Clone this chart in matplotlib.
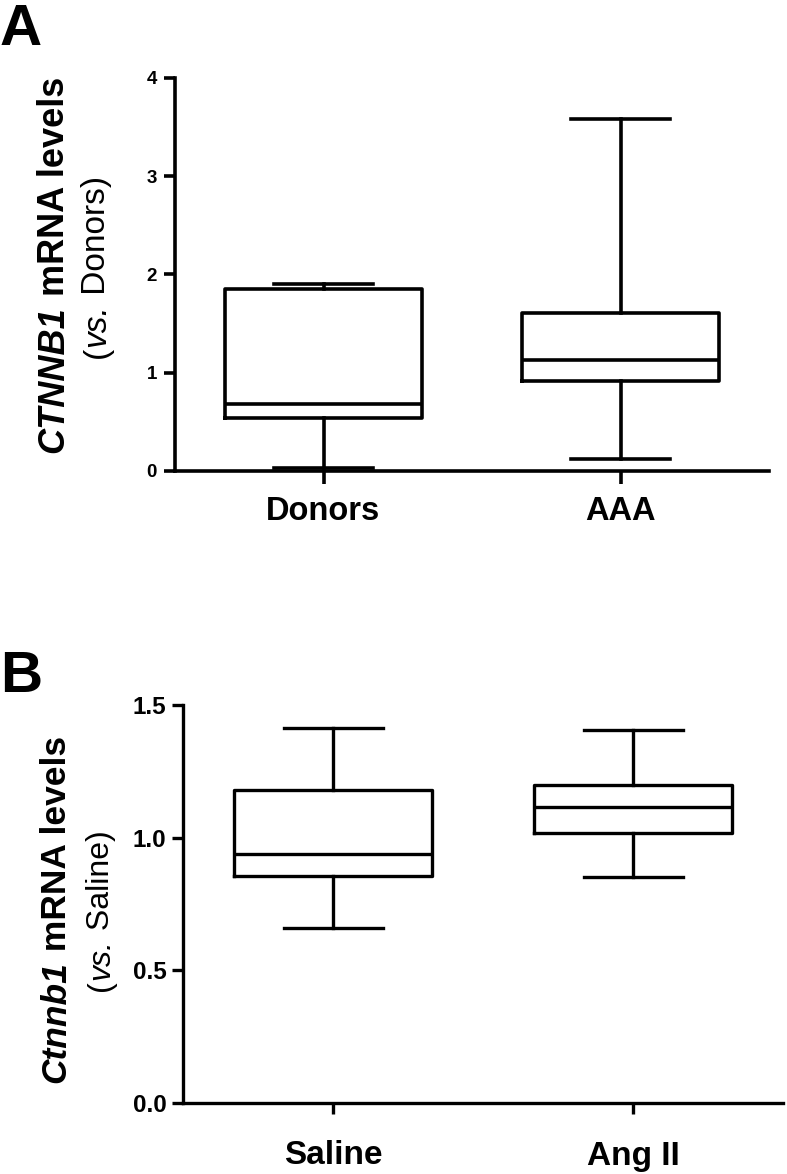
import matplotlib
matplotlib.use("Agg")
import matplotlib.pyplot as plt

plt.rcParams['font.family'] = ['Liberation Sans', 'DejaVu Sans']

# Panel A: human aorta (box plot summary values)
groups_a = ['Donors', 'AAA']
whislo_a = [0.034, 0.126]
q1_a = [0.537, 0.920]
med_a = [0.679, 1.130]
q3_a = [1.850, 1.612]
whishi_a = [1.904, 3.581]
yticks_a = [0, 1, 2, 3, 4]

# Panel B: mouse model
groups_b = ['Saline', 'Ang II']
whislo_b = [0.660, 0.853]
q1_b = [0.856, 1.019]
med_b = [0.939, 1.117]
q3_b = [1.180, 1.199]
whishi_b = [1.414, 1.406]
yticks_b = [0.0, 0.5, 1.0, 1.5]

W, H = 787, 1174
fig = plt.figure(figsize=(W / 100, H / 100), dpi=100)


def px(x, y):
    # pixel position (from top-left) -> figure fraction
    return x / W, 1 - y / H


def make_stats(groups, lo, q1, med, q3, hi):
    return [dict(label=g, whislo=a, q1=b, med=c, q3=d, whishi=e, fliers=[])
            for g, a, b, c, d, e in zip(groups, lo, q1, med, q3, hi)]


def draw_box(ax, stats, lw):
    props = dict(color='black', linewidth=lw)
    ax.bxp(stats, positions=[1, 2], widths=0.66, showfliers=False,
           boxprops=props, medianprops=props, whiskerprops=props,
           capprops=props)
    ax.set_xlim(0.5, 2.5)
    for s in ['top', 'right']:
        ax.spines[s].set_visible(False)
    for s in ['left', 'bottom']:
        ax.spines[s].set_linewidth(lw)
        ax.spines[s].set_capstyle('projecting')


def chain_label(start, pieces, size):
    # rotated label built from pieces (bottom to top) so styles can be mixed
    txt, wt, st = pieces[0]
    prev = fig.text(*px(*start), txt, rotation=90, ha='center', va='bottom',
                    fontsize=size, fontweight=wt, style=st)
    for txt, wt, st in pieces[1:]:
        prev = fig.axes[0].annotate(txt, xy=(0.5, 1.0), xycoords=prev,
                                    rotation=90, ha='center', va='bottom',
                                    fontsize=size, fontweight=wt, style=st,
                                    annotation_clip=False)


# ---- Panel A ----
l, b = px(175, 471)
ax1 = fig.add_axes([l, b, 594 / W, (471 - 78) / H])
draw_box(ax1, make_stats(groups_a, whislo_a, q1_a, med_a, q3_a, whishi_a), 2.6)
ax1.set_ylim(0, 4)
ax1.set_yticks(yticks_a)
ax1.set_yticklabels([str(t) for t in yticks_a], fontsize=13.5, fontweight='bold')
ax1.set_xticklabels(groups_a, fontsize=23.5, fontweight='bold')
ax1.tick_params(axis='y', length=8, width=2.6, pad=5)
ax1.tick_params(axis='x', length=9, width=2.6, pad=9)

fig.text(*px(0, 45), 'A', fontsize=42, fontweight='bold', ha='left', va='baseline')

chain_label((54, 453), [('CTNNB1', 'bold', 'italic'),
                        (' mRNA levels', 'bold', 'normal')], 26)
chain_label((97, 358), [('(', 'normal', 'normal'),
                        ('vs.', 'normal', 'italic'),
                        (' Donors)', 'normal', 'normal')], 24)

# ---- Panel B ----
l, b = px(183, 1103)
ax2 = fig.add_axes([l, b, 600 / W, (1103 - 705) / H])
draw_box(ax2, make_stats(groups_b, whislo_b, q1_b, med_b, q3_b, whishi_b), 2.4)
ax2.set_ylim(0, 1.5)
ax2.set_yticks(yticks_b)
ax2.set_yticklabels([f'{t:.1f}' for t in yticks_b], fontsize=17.5, fontweight='bold')
ax2.set_xticklabels(groups_b, fontsize=24, fontweight='bold')
ax2.tick_params(axis='y', length=8, width=2.4, pad=4)
ax2.tick_params(axis='x', length=8, width=2.4, pad=19)

fig.text(*px(0, 692), 'B', fontsize=42, fontweight='bold', ha='left', va='baseline')

chain_label((56, 1083), [('Ctnnb1', 'bold', 'italic'),
                         (' mRNA levels', 'bold', 'normal')], 25.5)
chain_label((101, 991), [('(', 'normal', 'normal'),
                         ('vs.', 'normal', 'italic'),
                         (' Saline)', 'normal', 'normal')], 23)

fig.savefig('out.png', dpi=100)
